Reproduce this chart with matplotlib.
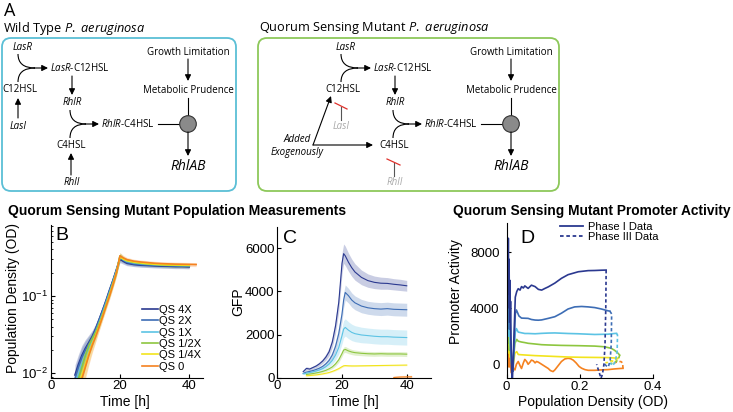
import matplotlib.pyplot as plt
import numpy as np
from matplotlib.patches import FancyBboxPatch, Circle, PathPatch
from matplotlib.path import Path

plt.rcParams['font.family'] = ['Liberation Sans', 'DejaVu Sans']
plt.rcParams['mathtext.fontset'] = 'custom'
plt.rcParams['mathtext.rm'] = 'Open Sans'
plt.rcParams['mathtext.it'] = 'Open Sans:italic'

nan = np.nan
labels = ['QS 4X', 'QS 2X', 'QS 1X', 'QS 1/2X', 'QS 1/4X', 'QS 0']
colors = ['#2b3990', '#3d6db5', '#5cc3e4', '#8dc63f', '#f2e41c', '#f58220']

# panel B - population density (OD)
t_od = [7, 8, 9, 10, 11, 12, 13, 14, 15, 16, 17, 18, 19, 20, 21, 22, 24, 26, 28, 30, 32, 34, 36, 38, 40, 42]
od_4x = [0.0095, 0.013, 0.017, 0.021, 0.025, 0.030, 0.038, 0.050, 0.066, 0.088, 0.12, 0.16, 0.22, 0.30, 0.28, 0.265, 0.255, 0.25, 0.248, 0.245, 0.243, 0.242, 0.24, 0.24, 0.238, nan]
od_2x = [0.0085, 0.012, 0.016, 0.020, 0.024, 0.029, 0.037, 0.049, 0.065, 0.087, 0.118, 0.16, 0.22, 0.31, 0.29, 0.272, 0.26, 0.255, 0.252, 0.25, 0.248, 0.246, 0.245, 0.244, 0.243, nan]
od_1x = [0.007, 0.0095, 0.013, 0.017, 0.022, 0.027, 0.034, 0.045, 0.060, 0.081, 0.11, 0.15, 0.21, 0.32, 0.295, 0.28, 0.268, 0.262, 0.258, 0.255, 0.252, 0.25, 0.249, 0.248, 0.247, nan]
od_half = [0.006, 0.0085, 0.012, 0.017, 0.023, 0.028, 0.034, 0.044, 0.058, 0.078, 0.107, 0.147, 0.205, 0.33, 0.30, 0.285, 0.272, 0.265, 0.26, 0.256, 0.253, 0.251, 0.25, 0.249, 0.248, nan]
od_quarter = [0.005, 0.007, 0.0095, 0.013, 0.018, 0.024, 0.031, 0.041, 0.055, 0.075, 0.103, 0.142, 0.20, 0.32, 0.30, 0.287, 0.275, 0.268, 0.262, 0.258, 0.255, 0.253, 0.252, 0.251, 0.25, nan]
od_zero = [0.004, 0.006, 0.0085, 0.012, 0.017, 0.023, 0.030, 0.040, 0.054, 0.074, 0.10, 0.14, 0.20, 0.33, 0.31, 0.295, 0.282, 0.275, 0.27, 0.265, 0.262, 0.26, 0.258, 0.257, 0.256, 0.255]
od_spread = [0.35, 0.35, 0.35, 0.30, 0.25, 0.20, 0.15, 0.12, 0.10, 0.10, 0.10, 0.10, 0.10, 0.10, 0.08, 0.07, 0.06, 0.06, 0.06, 0.06, 0.06, 0.06, 0.06, 0.06, 0.06, 0.06]

# panel C - GFP
t_gfp = [8, 9, 10, 11, 12, 13, 14, 15, 16, 17, 18, 19, 20, 20.5, 21, 22, 23, 24, 26, 28, 30, 32, 34, 36, 38, 40]
gfp_4x = [280, 430, 400, 470, 540, 640, 770, 950, 1200, 1650, 2400, 3500, 5300, 5750, 5650, 5350, 5100, 4900, 4650, 4500, 4420, 4380, 4370, 4330, 4300, 4260]
gfp_2x = [200, 260, 290, 330, 380, 440, 520, 640, 800, 1050, 1450, 2050, 2950, 3600, 3950, 3800, 3600, 3470, 3320, 3240, 3200, 3180, 3200, 3170, 3160, 3150]
gfp_1x = [180, 210, 240, 270, 310, 360, 420, 510, 630, 800, 1050, 1400, 1950, 2250, 2330, 2200, 2100, 2040, 1980, 1950, 1920, 1900, 1900, 1880, 1870, 1860]
gfp_half = [nan, 150, 170, 190, 220, 250, 290, 340, 410, 500, 640, 830, 1120, 1280, 1310, 1240, 1190, 1160, 1130, 1110, 1100, 1110, 1100, 1100, 1100, 1090]
gfp_quarter = [nan, 90, 100, 115, 130, 150, 175, 205, 240, 290, 350, 420, 510, 550, 560, 550, 545, 545, 550, 555, 560, 565, 570, 575, 580, 585]
gfp_zero = [nan, nan, nan, nan, nan, nan, nan, nan, nan, nan, nan, nan, nan, nan, nan, nan, nan, nan, nan, nan, nan, nan, nan, 10, 30, 40]
err_4x = [60, 80, 70, 70, 80, 90, 110, 140, 180, 240, 330, 420, 480, 450, 450, 420, 400, 380, 340, 310, 290, 280, 270, 260, 260, 250]
err_2x = [40, 50, 50, 60, 70, 80, 90, 110, 140, 180, 240, 300, 350, 350, 350, 340, 330, 320, 310, 300, 300, 300, 300, 300, 300, 300]
err_1x = [30, 40, 40, 50, 60, 70, 80, 100, 130, 170, 230, 300, 380, 400, 400, 390, 380, 370, 360, 350, 350, 350, 350, 350, 350, 350]
err_half = [nan, 30, 30, 35, 40, 45, 50, 60, 70, 80, 100, 120, 140, 140, 140, 130, 120, 120, 110, 110, 110, 110, 110, 110, 110, 110]
err_quarter = [nan, 20, 20, 20, 20, 25, 25, 30, 30, 35, 40, 40, 40, 40, 40, 35, 35, 30, 30, 30, 30, 30, 30, 30, 30, 30]
err_zero = [nan, nan, nan, nan, nan, nan, nan, nan, nan, nan, nan, nan, nan, nan, nan, nan, nan, nan, nan, nan, nan, nan, nan, 60, 70, 70]

# panel D - promoter activity vs OD, phase I (solid) and phase III (dashed)
od1_4x = [0.0005, 0.001, 0.0015, 0.002, 0.003, 0.004, 0.005, 0.006, 0.007, 0.008, 0.009, 0.010, 0.011, 0.012, 0.013, 0.014, 0.016, 0.018, 0.021, 0.024, 0.028, 0.032, 0.037, 0.041, 0.046, 0.050, 0.055, 0.059, 0.068, 0.078, 0.087, 0.096, 0.105, 0.114, 0.132, 0.150, 0.168, 0.196, 0.223, 0.241, 0.259, 0.272]
pa1_4x = [14000, 9000, 12000, 7000, 8500, 6000, 9000, 5000, 7500, 4000, 6000, 3000, 4500, 2000, 800, -500, -1200, 200, 2500, 4800, 5200, 5400, 5300, 5550, 5450, 5600, 5500, 5420, 5650, 5550, 5350, 5300, 5420, 5530, 5800, 6140, 6400, 6610, 6690, 6700, 6720, 6730]
od3_4x = [0.272, 0.271, 0.269, 0.266, 0.262, 0.258, 0.252, 0.246]
pa3_4x = [6730, 4000, 1500, 0, -700, -1000, -500, 0]
od1_2x = [0.002, 0.004, 0.006, 0.008, 0.010, 0.012, 0.014, 0.016, 0.018, 0.021, 0.024, 0.027, 0.030, 0.034, 0.041, 0.050, 0.059, 0.068, 0.078, 0.087, 0.096, 0.114, 0.132, 0.150, 0.168, 0.186, 0.205, 0.223, 0.241, 0.259, 0.277, 0.282]
pa1_2x = [6000, 3000, 5000, 2500, 4000, 1500, 500, -300, -500, 1500, 3600, 3880, 3700, 3450, 3300, 3290, 3280, 3200, 3160, 3150, 3170, 3280, 3400, 3650, 3950, 4100, 4130, 4100, 4050, 3950, 3820, 3800]
od3_2x = [0.282, 0.287, 0.286, 0.283, 0.278, 0.272, 0.265]
pa3_2x = [3800, 3600, 1500, 300, -200, -100, 100]
od1_1x = [0.002, 0.004, 0.006, 0.008, 0.010, 0.012, 0.014, 0.016, 0.018, 0.021, 0.024, 0.027, 0.032, 0.041, 0.050, 0.059, 0.078, 0.096, 0.114, 0.132, 0.150, 0.168, 0.196, 0.223, 0.241, 0.259, 0.277, 0.295, 0.300]
pa1_1x = [3000, 4500, 2000, 3000, 1500, 800, 0, -300, 200, 1200, 2300, 2550, 2300, 2250, 2200, 2200, 2180, 2210, 2230, 2240, 2220, 2200, 2180, 2150, 2130, 2140, 2150, 2200, 2210]
od3_1x = [0.300, 0.303, 0.302, 0.297, 0.290, 0.283]
pa3_1x = [2210, 2100, 900, 200, -100, 100]
od1_half = [0.002, 0.004, 0.006, 0.008, 0.010, 0.012, 0.014, 0.016, 0.019, 0.023, 0.028, 0.032, 0.041, 0.050, 0.059, 0.078, 0.096, 0.114, 0.150, 0.196, 0.241, 0.268, 0.286, 0.295, 0.304, 0.309]
pa1_half = [2500, 1500, 3000, 1000, 1800, 600, 200, -200, 400, 1500, 1780, 1650, 1590, 1550, 1500, 1450, 1400, 1380, 1350, 1330, 1300, 1250, 1140, 1000, 800, 660]
od3_half = [0.309, 0.306, 0.300, 0.292, 0.284]
pa3_half = [660, 400, 200, 100, 50]
od1_quarter = [0.002, 0.004, 0.006, 0.008, 0.010, 0.012, 0.014, 0.016, 0.019, 0.023, 0.028, 0.032, 0.041, 0.059, 0.078, 0.096, 0.132, 0.168, 0.205, 0.241, 0.277, 0.295, 0.304]
pa1_quarter = [1500, 2500, 800, 1800, 500, 1000, 200, -200, 100, 800, 900, 700, 680, 650, 620, 600, 560, 520, 500, 490, 480, 450, 430]
od3_quarter = [0.304, 0.300, 0.294, 0.286, 0.278, 0.270]
pa3_quarter = [430, 350, 200, 250, 150, 100]
od1_zero = [0.001, 0.003, 0.005, 0.007, 0.009, 0.011, 0.013, 0.016, 0.019, 0.023, 0.027, 0.032, 0.037, 0.041, 0.046, 0.050, 0.055, 0.059, 0.064, 0.068, 0.073, 0.078, 0.082, 0.087, 0.096, 0.105, 0.114, 0.120, 0.127, 0.132, 0.141, 0.150, 0.159, 0.168, 0.175, 0.182, 0.190, 0.198, 0.205, 0.214, 0.223, 0.241, 0.259, 0.277, 0.295, 0.310, 0.318]
pa1_zero = [2000, 600, 1500, -200, 900, 100, -600, 200, -300, -400, 0, 200, -100, -300, 100, 350, 200, 0, 150, 300, 250, 100, 200, 150, 0, -150, -300, -450, -520, -400, -100, 200, 380, 430, 400, 300, 100, -150, -280, -380, -430, -430, -400, -380, -330, -300, -290]
od3_zero = [0.318, 0.317, 0.312, 0.300, 0.290]
pa3_zero = [-290, 100, 200, 150, 50]

fig = plt.figure(figsize=(7.33, 4.12), dpi=100)

# ---- panel A: schematic, drawn in pixel coordinates ----
ax0 = fig.add_axes([0, 0, 1, 1])
ax0.set_xlim(0, 733)
ax0.set_ylim(412, 0)
ax0.axis('off')
DF = 'Open Sans'
FS = 7.0

def arrow(x0, y0, x1, y1, col='k'):
    ax0.annotate('', xy=(x1, y1), xytext=(x0, y0),
                 arrowprops=dict(arrowstyle='-|>', color=col, lw=0.8,
                                 mutation_scale=9, shrinkA=0, shrinkB=0))

def curve(x0, y0, cx, cy, x1, y1):
    p = Path([(x0, y0), (cx, cy), (x1, y1)], [Path.MOVETO, Path.CURVE3, Path.CURVE3])
    ax0.add_patch(PathPatch(p, fc='none', ec='k', lw=0.8))

def txt(x, y, s, ha='center', **kw):
    ax0.text(x, y, s, ha=ha, va='center', family=DF, fontsize=kw.pop('fs', FS), **kw)

def diagram(dx, mutant):
    gene = '#aaaaaa' if mutant else 'k'
    txt(23 + dx, 47, 'LasR', style='italic')
    curve(18 + dx, 54, 18 + dx, 68, 35 + dx, 68)
    curve(18 + dx, 82, 18 + dx, 68, 35 + dx, 68)
    arrow(34 + dx, 68, 48 + dx, 68)
    txt(50 + dx, 68, r'$\mathit{LasR}$-C12HSL', ha='left')
    txt(20 + dx, 89, 'C12HSL')
    txt(18 + dx, 126, 'LasI', style='italic', color=gene)
    arrow(72 + dx, 76, 72 + dx, 95)
    txt(72 + dx, 102, 'RhlR', style='italic')
    curve(70 + dx, 110, 70 + dx, 124, 86 + dx, 124)
    curve(70 + dx, 138, 70 + dx, 124, 86 + dx, 124)
    arrow(85 + dx, 124, 99 + dx, 124)
    txt(101 + dx, 124, r'$\mathit{RhlR}$-C4HSL', ha='left')
    txt(71 + dx, 146, 'C4HSL')
    txt(72 + dx, 182, 'RhlI', style='italic', color=gene)
    ax0.plot([158 + dx, 180 + dx], [124, 124], color='k', lw=0.8)
    ax0.add_patch(Circle((188 + dx, 124), 8.3, fc='#8a8a8a', ec='#333333', lw=0.8, zorder=3))
    txt(188 + dx, 52, 'Growth Limitation')
    arrow(188 + dx, 59, 188 + dx, 81)
    txt(188 + dx, 90, 'Metabolic Prudence')
    ax0.plot([188 + dx, 188 + dx], [98, 116], color='k', lw=0.8)
    arrow(188 + dx, 132, 188 + dx, 156)
    txt(188 + dx, 166, 'RhlAB', style='italic', fs=10)
    if mutant:
        # blocked synthases
        ax0.plot([18 + dx, 18 + dx], [120, 107], color='#555555', lw=0.8)
        ax0.plot([12 + dx, 24 + dx], [103, 109], color='#e0322c', lw=0.9)
        ax0.plot([71 + dx, 71 + dx], [176, 163], color='#555555', lw=0.8)
        ax0.plot([64 + dx, 77 + dx], [159, 165], color='#e0322c', lw=0.9)
        txt(-26 + dx, 140, 'Added', style='italic')
        txt(-26 + dx, 152, 'Exogenously', style='italic')
        arrow(-10 + dx, 145, 8 + dx, 96)
        arrow(-10 + dx, 145, 50 + dx, 145)
    else:
        arrow(18 + dx, 118, 18 + dx, 98)
        arrow(71 + dx, 175, 71 + dx, 153)

ax0.add_patch(FancyBboxPatch((2, 38), 234, 153, boxstyle='round,pad=0,rounding_size=9',
                             ec='#5bbfd6', fc='none', lw=1.3))
ax0.add_patch(FancyBboxPatch((258, 38), 301, 153, boxstyle='round,pad=0,rounding_size=9',
                             ec='#8dc85a', fc='none', lw=1.3))
diagram(0, False)
diagram(323, True)
ax0.text(4, 11, 'A', family=DF, fontsize=13, va='center', ha='left')
ax0.text(3, 28, r'Wild Type $\mathit{P.\ aeruginosa}$', family=DF, fontsize=9.2, va='center')
ax0.text(259, 28, r'Quorum Sensing Mutant $\mathit{P.\ aeruginosa}$', family=DF, fontsize=9.2, va='center')
ax0.text(8, 211, 'Quorum Sensing Mutant Population Measurements', fontsize=10, fontweight='bold', va='center')
ax0.text(453, 211, 'Quorum Sensing Mutant Promoter Activity', fontsize=9.9, fontweight='bold', va='center')

def style(ax):
    ax.spines['top'].set_visible(False)
    ax.spines['right'].set_visible(False)
    ax.tick_params(direction='in', length=3, labelsize=9.5, pad=2)
    ax.tick_params(which='minor', direction='in', length=1.5)

# ---- panel B ----
axB = fig.add_axes([0.0692, 0.0833, 0.2078, 0.3706])
od_all = [od_4x, od_2x, od_1x, od_half, od_quarter, od_zero]
t = np.array(t_od)
s = np.array(od_spread)
for lab, col, y in zip(labels, colors, od_all):
    y = np.array(y)
    axB.fill_between(t, y * (1 - s), y * (1 + s), color=col, alpha=0.25, lw=0)
for lab, col, y in zip(labels, colors, od_all):
    axB.plot(t, y, color=col, lw=1.2, label=lab)
axB.set_yscale('log')
axB.set_ylim(10 ** -2.057, 10 ** -0.082)
axB.set_xlim(0, 44)
axB.set_xticks([0, 20, 40])
style(axB)
axB.set_xlabel('Time [h]', fontsize=10)
axB.set_ylabel('Population Density (OD)', fontsize=10)
axB.xaxis.set_label_coords(0.49, -0.112)
axB.yaxis.set_label_coords(-0.2, 0.52)
axB.text(0.03, 0.99, 'B', transform=axB.transAxes, fontsize=14, va='top')
axB.legend(loc='upper left', bbox_to_anchor=(0.6, 0.476), frameon=False, fontsize=8,
           handlelength=1.45, handletextpad=0.1, labelspacing=0.12, borderpad=0, borderaxespad=0)

# ---- panel C ----
axC = fig.add_axes([0.3783, 0.0833, 0.2097, 0.3665])
gfp_all = [gfp_4x, gfp_2x, gfp_1x, gfp_half, gfp_quarter, gfp_zero]
err_all = [err_4x, err_2x, err_1x, err_half, err_quarter, err_zero]
tg = np.array(t_gfp)
tz = tg.copy()
tz[-1] = 41.5
for i, (col, y, e) in enumerate(zip(colors, gfp_all, err_all)):
    x = tz if i == 5 else tg
    y = np.array(y)
    e = np.array(e)
    axC.fill_between(x, y - e, y + e, color=col, alpha=0.25, lw=0)
    axC.plot(x, y, color=col, lw=0.8)
axC.set_xlim(0, 47.5)
axC.set_ylim(0, 7000)
axC.set_xticks([0, 20, 40])
axC.set_yticks([0, 2000, 4000, 6000])
style(axC)
axC.set_xlabel('Time [h]', fontsize=10)
axC.set_ylabel('GFP', fontsize=10)
axC.xaxis.set_label_coords(0.5, -0.112)
axC.yaxis.set_label_coords(-0.21, 0.5)
axC.text(0.04, 0.98, 'C', transform=axC.transAxes, fontsize=14, va='top')

# ---- panel D ----
axD = fig.add_axes([0.691, 0.0818, 0.1999, 0.3762])
p1 = [(od1_4x, pa1_4x), (od1_2x, pa1_2x), (od1_1x, pa1_1x), (od1_half, pa1_half),
      (od1_quarter, pa1_quarter), (od1_zero, pa1_zero)]
p3 = [(od3_4x, pa3_4x), (od3_2x, pa3_2x), (od3_1x, pa3_1x), (od3_half, pa3_half),
      (od3_quarter, pa3_quarter), (od3_zero, pa3_zero)]
for col, (x1, y1), (x3, y3) in zip(colors[::-1], p1[::-1], p3[::-1]):
    axD.plot(x1, y1, color=col, lw=1.2)
    axD.plot(x3, y3, color=col, lw=1.2, ls=(0, (2, 1.5)))
axD.plot([], [], color=colors[0], lw=1.3, label='Phase I Data')
axD.plot([], [], color=colors[0], lw=1.3, ls=(0, (2, 1.5)), label='Phase III Data')
axD.set_xlim(0, 0.4)
axD.set_ylim(-1000, 10070)
axD.set_xticks([0, 0.2, 0.4])
axD.set_xticklabels(['0', '0.2', '0.4'])
axD.set_yticks([0, 4000, 8000])
style(axD)
axD.tick_params(axis='y', pad=5)
axD.set_xlabel('Population Density (OD)', fontsize=10)
axD.set_ylabel('Promoter Activity', fontsize=10)
axD.xaxis.set_label_coords(0.587, -0.11)
axD.yaxis.set_label_coords(-0.3, 0.56)
axD.text(0.092, 0.96, 'D', transform=axD.transAxes, fontsize=14, va='top')
axD.legend(loc='upper left', bbox_to_anchor=(0.365, 1.01), frameon=False, fontsize=8,
           handlelength=2.1, handletextpad=0.45, labelspacing=0.05, borderpad=0, borderaxespad=0)

fig.savefig('out.png', dpi=100)
